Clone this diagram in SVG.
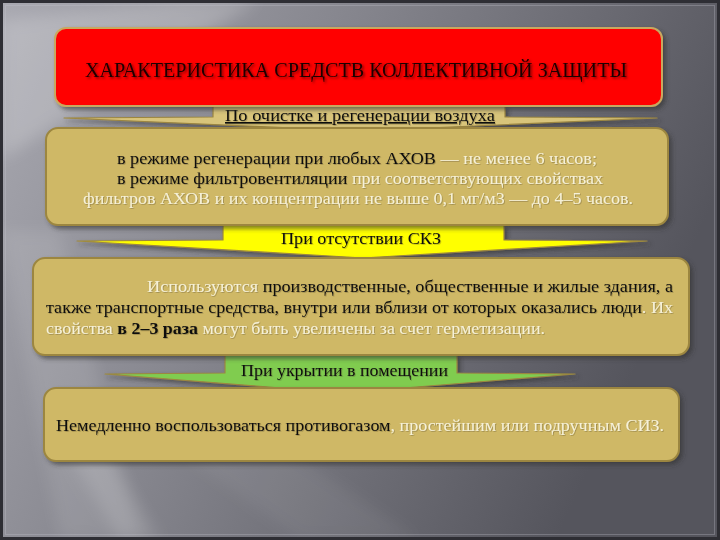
<svg xmlns="http://www.w3.org/2000/svg" width="720" height="540" viewBox="0 0 720 540">
  <defs>
    <linearGradient id="bg" x1="0" y1="0" x2="1" y2="0.35">
      <stop offset="0" stop-color="#a9a9b1"/>
      <stop offset="0.45" stop-color="#85858d"/>
      <stop offset="1" stop-color="#55555d"/>
    </linearGradient>
    <filter id="blur" x="-20%" y="-20%" width="140%" height="140%">
      <feGaussianBlur stdDeviation="8"/>
    </filter>
    <filter id="shadow" x="-5%" y="-10%" width="112%" height="130%">
      <feDropShadow dx="3" dy="3" stdDeviation="2" flood-color="#303030" flood-opacity="0.6"/>
    </filter>
    <filter id="tshadow" x="-5%" y="-30%" width="110%" height="160%">
      <feDropShadow dx="0.8" dy="0.8" stdDeviation="0.4" flood-color="#3a3020" flood-opacity="0.35"/>
    </filter>
    <filter id="titleshadow" x="-5%" y="-30%" width="110%" height="160%">
      <feDropShadow dx="1.5" dy="1.5" stdDeviation="0.8" flood-color="#600000" flood-opacity="0.8"/>
    </filter>
  </defs>
  <style>
    .box { fill: #cfb866; stroke: #9c8640; stroke-width: 2; }
    .t { font-family: "Liberation Serif", "Times New Roman", serif; font-size: 16px; fill: #111; }
    .p { fill: #f6f1d8; }
    .lbl { stroke: #9c8640; stroke-width: 1.2; stroke-linejoin: round; }
  </style>

  <!-- background -->
  <rect x="0" y="0" width="720" height="540" fill="url(#bg)"/>
  <g filter="url(#blur)" fill="#ffffff">
    <polygon points="0,20 180,0 260,0 0,160" opacity="0.2"/>
    <polygon points="0,230 60,230 140,540 60,540" opacity="0.10"/>
    <polygon points="60,440 100,440 160,540 120,540" opacity="0.14"/>
    <polygon points="150,430 260,430 420,540 300,540" opacity="0.06"/>
  </g>
  <rect x="1.5" y="1.5" width="717" height="537" fill="none" stroke="#2e2e34" stroke-width="3"/>
  <rect x="5.5" y="5.5" width="709" height="529" fill="none" stroke="#c8c8d0" stroke-opacity="0.3" stroke-width="1"/>

  <!-- connectors (callout labels) -->
  <g id="connectors">
    <g id="label1" filter="url(#shadow)">
      <polygon class="lbl" fill="#d8c47a" points="213,106 505,106 505,117 657,118 360,131 64,118 213,117"/>
      <text class="t" x="225" y="121" textLength="270" lengthAdjust="spacingAndGlyphs" text-decoration="underline" filter="url(#tshadow)">По  очистке и регенерации воздуха</text>
    </g>
    <g id="label2" filter="url(#shadow)">
      <polygon class="lbl" fill="#ffff00" points="223,225 504,225 504,240 647,241 363,258 77,241 223,240"/>
      <text class="t" x="281" y="244" textLength="160" lengthAdjust="spacingAndGlyphs" filter="url(#tshadow)">При отсутствии СКЗ</text>
    </g>
    <g id="label3" filter="url(#shadow)">
      <polygon class="lbl" fill="#80cc50" points="225,354 457,354 457,373 575,374 343,393 105,374 225,373"/>
      <text class="t" x="241" y="376" textLength="207" lengthAdjust="spacingAndGlyphs" filter="url(#tshadow)">При укрытии в помещении</text>
    </g>
  </g>

  <!-- title -->
  <g id="title" filter="url(#shadow)">
    <rect x="55" y="28" width="607" height="78" rx="11" fill="#ff0000" stroke="#c8a860" stroke-width="2"/>
    <text x="85" y="77" font-family="'Liberation Serif', 'Times New Roman', serif" font-size="20" fill="#1a0000" textLength="542" lengthAdjust="spacingAndGlyphs" filter="url(#titleshadow)">ХАРАКТЕРИСТИКА СРЕДСТВ КОЛЛЕКТИВНОЙ ЗАЩИТЫ</text>
  </g>

  <!-- box 2 -->
  <g id="box-regeneration">
    <rect class="box" x="46" y="128" width="622" height="97" rx="12" filter="url(#shadow)"/>
    <g filter="url(#tshadow)">
      <text class="t" x="117" y="164" textLength="480" lengthAdjust="spacingAndGlyphs">в режиме регенерации при любых АХОВ<tspan class="p"> — не менее 6 часов;</tspan></text>
      <text class="t" x="117" y="184" textLength="486" lengthAdjust="spacingAndGlyphs">в режиме фильтровентиляции<tspan class="p"> при соответствующих свойствах</tspan></text>
      <text class="t p" x="83" y="204" textLength="550" lengthAdjust="spacingAndGlyphs">фильтров АХОВ и их концентрации не выше 0,1 мг/м3 — до 4–5 часов.</text>
    </g>
  </g>

  <!-- box 3 -->
  <g id="box-no-skz">
    <rect class="box" x="33" y="258" width="656" height="97" rx="12" filter="url(#shadow)"/>
    <g filter="url(#tshadow)">
      <text class="t" x="147" y="292" textLength="526" lengthAdjust="spacingAndGlyphs"><tspan class="p">Используются</tspan> производственные, общественные и жилые здания, а</text>
      <text class="t" x="46" y="313" textLength="627" lengthAdjust="spacingAndGlyphs">также транспортные средства, внутри или вблизи от которых оказались люди<tspan class="p">. Их</tspan></text>
      <text class="t" x="46" y="334" textLength="499" lengthAdjust="spacingAndGlyphs"><tspan class="p">свойства </tspan><tspan font-weight="bold">в 2–3 раза</tspan><tspan class="p"> могут быть увеличены за счет герметизации.</tspan></text>
    </g>
  </g>

  <!-- box 4 -->
  <g id="box-shelter">
    <rect class="box" x="44" y="388" width="635" height="73" rx="12" filter="url(#shadow)"/>
    <text class="t" x="56" y="431" textLength="608" lengthAdjust="spacingAndGlyphs" filter="url(#tshadow)">Немедленно воспользоваться противогазом<tspan class="p">, простейшим или подручным СИЗ.</tspan></text>
  </g>
</svg>
